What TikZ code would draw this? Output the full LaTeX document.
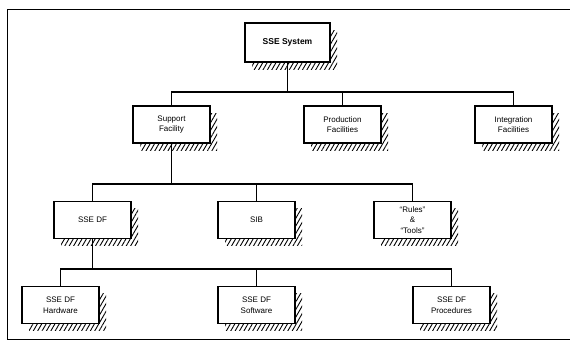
\documentclass[tikz,border=0pt]{standalone}
\usepackage{fontspec}
\setmainfont{Liberation Sans}
\usetikzlibrary{positioning,shadows,patterns.meta}

\tikzset{
  unit/.style={draw, line width=1.1pt, fill=white, minimum width=77pt, minimum height=37pt,
    align=center, inner sep=2pt, font=\fontsize{8}{10.5}\selectfont,
    general shadow={shadow xshift=7pt, shadow yshift=-7pt,
      pattern={Lines[angle=60,distance=3.8pt,line width=0.9pt]}}},
  top unit/.style={unit, minimum width=85pt, minimum height=39pt, font=\bfseries\fontsize{8.5}{10}\selectfont},
  link/.style={line width=1.1pt},
  frame/.style={line width=0.9pt}
}

\begin{document}
\begin{tikzpicture}[x=1pt,y=1pt,node distance=80pt,on grid]
   \useasboundingbox (0,0) rectangle (570,-343);
   \clip (0,0) rectangle (570,-343);
   \draw[frame] (575,-9) -- (7,-9) -- (7,-339) -- (575,-339);
   % top level
   \node[top unit] (sys) at (287.5,-42.5) {SSE System};
   \node[unit] (prod)  [below right=82pt and 55pt of sys] {Production\\Facilities};
   \node[unit] (supp)  [left=171pt of prod] {Support\\Facility};
   \node[unit] (integ) [right=171pt of prod] {Integration\\Facilities};
   % support facility
   \node[unit] (sib)   [below right=95.5pt and 85pt of supp] {SIB};
   \node[unit] (ssedf) [left=164pt of sib] {SSE DF};
   \node[unit] (rules) [right=156pt of sib] {``Rules''\\\&\\``Tools''};
   % SSE DF
   \node[unit] (sw)    [below=85pt of sib] {SSE DF\\Software};
   \node[unit] (hw)    [below left=85pt and 32pt of ssedf] {SSE DF\\Hardware};
   \node[unit] (proc)  [right=195pt of sw] {SSE DF\\Procedures};
   \coordinate (bus1) at (0,-92);
   \coordinate (bus2) at (0,-184);
   \coordinate (bus3) at (0,-269);
   \draw[link] (sys.south) -- (sys.south |- bus1);
   \draw[link] (supp.north) |- (integ.north |- bus1) -- (integ.north);
   \draw[link] (prod.north) -- (prod.north |- bus1);
   \draw[link] (supp.south) -- (supp.south |- bus2);
   \draw[link] (ssedf.north) |- (rules.north |- bus2) -- (rules.north);
   \draw[link] (sib.north) -- (sib.north |- bus2);
   \draw[link] (ssedf.south) -- (ssedf.south |- bus3);
   \draw[link] (hw.north) |- (proc.north |- bus3) -- (proc.north);
   \draw[link] (sw.north) -- (sw.north |- bus3);
\end{tikzpicture}
\end{document}
